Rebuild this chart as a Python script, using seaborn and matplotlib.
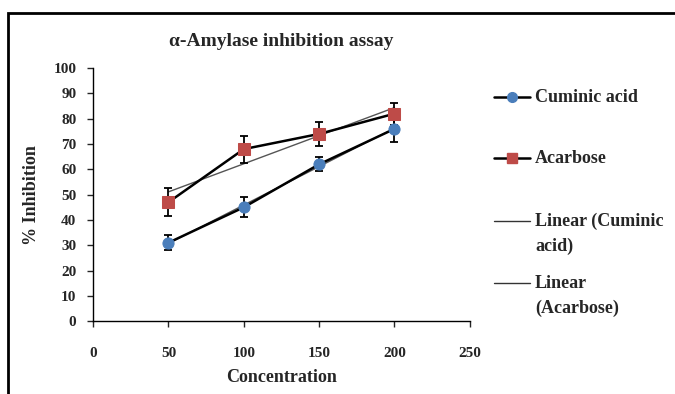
import numpy as np
import pandas as pd
import seaborn as sns
import matplotlib.pyplot as plt
from matplotlib.lines import Line2D
from matplotlib.patches import Rectangle

# data
concentration = [50, 100, 150, 200]
cuminic_acid = [31, 45, 62, 76]
cuminic_err = [3, 4, 2.7, 5]
acarbose = [47, 68, 74, 82]
acarbose_err = [5.5, 5.3, 4.7, 4.4]

df = pd.DataFrame({
    "conc": concentration * 2,
    "inhib": cuminic_acid + acarbose,
    "err": cuminic_err + acarbose_err,
    "compound": ["Cuminic acid"] * 4 + ["Acarbose"] * 4,
})

sns.set_style("white")
plt.rcParams["font.family"] = ["Liberation Serif", "DejaVu Serif"]
plt.rcParams["font.weight"] = "bold"

W, H = 675, 394
fig = plt.figure(figsize=(W / 100, H / 100), dpi=100)
ax = fig.add_axes([0.138, 0.185, 0.558, 0.642])

colors = {"Cuminic acid": "#4a7ebb", "Acarbose": "#be4b48"}
markers = {"Cuminic acid": "o", "Acarbose": "s"}

# linear trend lines
for name in ["Cuminic acid", "Acarbose"]:
    sub = df[df["compound"] == name]
    sns.regplot(data=sub, x="conc", y="inhib", ci=None, scatter=False,
                truncate=True, color="#555555", line_kws={"linewidth": 1.0},
                ax=ax)

# series with error bars
for name in ["Cuminic acid", "Acarbose"]:
    sub = df[df["compound"] == name]
    ax.errorbar(sub["conc"], sub["inhib"], yerr=sub["err"], fmt="none",
                ecolor="black", elinewidth=1.3, capsize=3, capthick=1.3, zorder=3)
    sns.lineplot(data=sub, x="conc", y="inhib", color="black", linewidth=1.8,
                 marker=markers[name], markersize=8, markerfacecolor=colors[name],
                 markeredgecolor=colors[name], ax=ax, zorder=4)

ax.set_xlim(0, 250)
ax.set_ylim(0, 100)
ax.set_xticks(range(0, 251, 50))
ax.set_yticks(range(0, 101, 10))
ax.tick_params(axis="both", direction="out", length=4, width=1, labelsize=11,
               bottom=True, left=True)
ax.tick_params(axis="x", pad=15)
ax.tick_params(axis="y", pad=8)
for lab in ax.get_xticklabels() + ax.get_yticklabels():
    lab.set_fontweight("bold")
for side in ["top", "right"]:
    ax.spines[side].set_visible(False)
for side in ["left", "bottom"]:
    ax.spines[side].set_color("black")
    ax.spines[side].set_linewidth(1.0)

ax.set_xlabel("Concentration", fontsize=13, fontweight="bold", labelpad=6)
ax.set_ylabel("% Inhibition", fontsize=13, fontweight="bold", labelpad=10)
ax.set_title("α-Amylase inhibition assay", fontsize=14, fontweight="bold", pad=16)

# Excel-style legend: handle aligned with the first line of each label
legend_items = [
    ("Cuminic acid", dict(color="black", linewidth=1.8, marker="o", markersize=7,
                          markerfacecolor=colors["Cuminic acid"],
                          markeredgecolor=colors["Cuminic acid"])),
    ("Acarbose", dict(color="black", linewidth=1.8, marker="s", markersize=7,
                      markerfacecolor=colors["Acarbose"],
                      markeredgecolor=colors["Acarbose"])),
    ("Linear (Cuminic\nacid)", dict(color="#333333", linewidth=1.0)),
    ("Linear\n(Acarbose)", dict(color="#333333", linewidth=1.0)),
]
row_y = [97, 158, 221, 283]
for (label, style), yc in zip(legend_items, row_y):
    fy = 1 - yc / H
    fig.add_artist(Line2D([494 / W, 512 / W, 530 / W], [fy, fy, fy],
                          transform=fig.transFigure, markevery=[1], **style))
    fig.text(535 / W, 1 - (yc - 8) / H, label, ha="left", va="top",
             fontsize=13, fontweight="bold", linespacing=1.55)

# outer frame of the original chart area
fig.patches.append(Rectangle((8 / W, -0.05), 1.1, 1 - 13 / H + 0.05,
                             transform=fig.transFigure, fill=False,
                             edgecolor="black", linewidth=2, clip_on=False))

fig.savefig("out.png", dpi=100)
